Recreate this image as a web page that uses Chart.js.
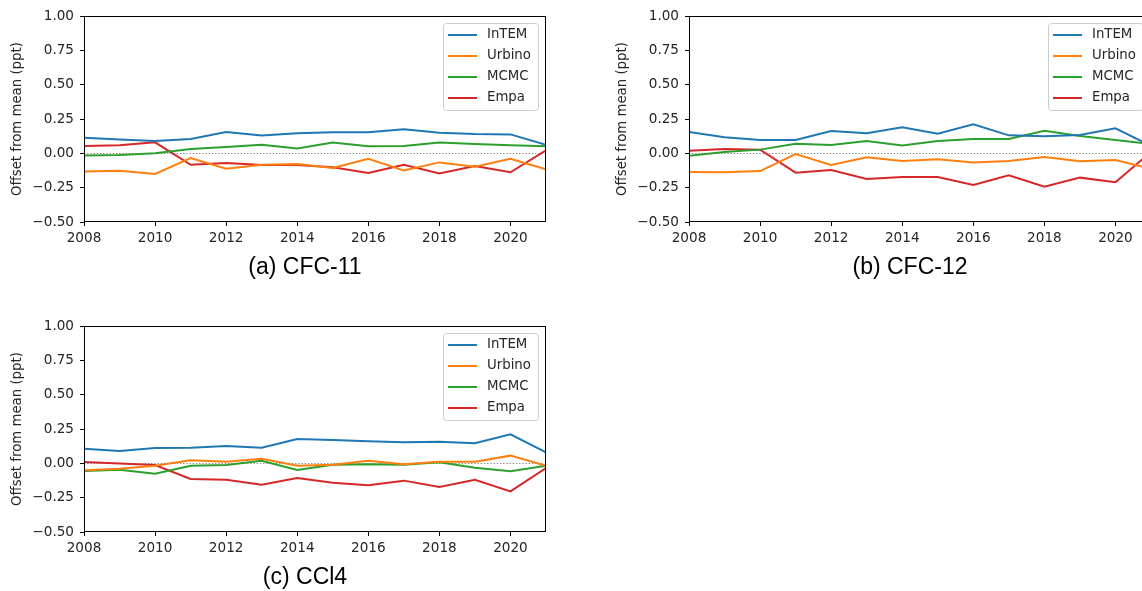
<!DOCTYPE html>
<html><head><meta charset="utf-8">
<script src="https://cdn.jsdelivr.net/npm/chart.js@4.4.1/dist/chart.umd.min.js"></script>
<style>
html,body{margin:0;padding:0;width:1142px;height:591px;overflow:hidden;background:#fff;}
canvas{position:absolute;}
</style></head><body>
<canvas id="ca" width="571" height="300" style="left:0px;top:0px;width:571px;height:300px"></canvas>
<canvas id="cb" width="571" height="300" style="left:605px;top:0px;width:571px;height:300px"></canvas>
<canvas id="cc" width="571" height="291" style="left:0px;top:310px;width:571px;height:291px"></canvas>
<script>
// ---- data ----
const years = [2008,2009,2010,2011,2012,2013,2014,2015,2016,2017,2018,2019,2020,2021];
const xTicks = [2008,2010,2012,2014,2016,2018,2020];
const yTicks = [-0.5,-0.25,0,0.25,0.5,0.75,1.0];
const seriesNames = ['InTEM','Urbino','MCMC','Empa'];
const panelTitles = ['(a) CFC-11','(b) CFC-12','(c) CCl4'];
const yAxisLabel = 'Offset from mean (ppt)';

const cfc11_InTEM  = [0.114,0.100,0.090,0.104,0.155,0.129,0.146,0.153,0.153,0.175,0.150,0.140,0.138,0.063];
const cfc11_Urbino = [-0.133,-0.126,-0.150,-0.034,-0.112,-0.083,-0.078,-0.107,-0.039,-0.124,-0.066,-0.097,-0.039,-0.117];
const cfc11_MCMC   = [-0.015,-0.012,0.000,0.032,0.046,0.063,0.036,0.078,0.051,0.053,0.078,0.068,0.058,0.051];
const cfc11_Empa   = [0.053,0.058,0.080,-0.083,-0.070,-0.085,-0.085,-0.102,-0.143,-0.083,-0.146,-0.092,-0.138,0.022];

const cfc12_InTEM  = [0.155,0.117,0.097,0.097,0.163,0.146,0.189,0.143,0.211,0.131,0.124,0.133,0.182,0.055];
const cfc12_Urbino = [-0.136,-0.138,-0.129,-0.005,-0.085,-0.029,-0.056,-0.044,-0.066,-0.056,-0.027,-0.058,-0.049,-0.112];
const cfc12_MCMC   = [-0.017,0.010,0.027,0.070,0.061,0.090,0.058,0.090,0.104,0.104,0.165,0.126,0.097,0.068];
const cfc12_Empa   = [0.019,0.032,0.027,-0.141,-0.121,-0.187,-0.172,-0.172,-0.231,-0.160,-0.243,-0.177,-0.211,0.010];

const ccl4_InTEM   = [0.107,0.090,0.112,0.114,0.126,0.114,0.177,0.170,0.160,0.153,0.158,0.146,0.211,0.080];
const ccl4_Urbino  = [-0.051,-0.039,-0.017,0.022,0.012,0.034,-0.017,-0.010,0.019,-0.007,0.012,0.012,0.056,-0.017];
const ccl4_MCMC    = [-0.056,-0.046,-0.075,-0.017,-0.012,0.019,-0.049,-0.010,-0.007,-0.010,0.007,-0.032,-0.058,-0.017];
const ccl4_Empa    = [0.010,-0.002,-0.012,-0.114,-0.119,-0.155,-0.107,-0.141,-0.160,-0.126,-0.172,-0.119,-0.204,-0.034];

// ---- styles ----
const seriesColors = ['#1f77b4','#ff7f0e','#2ca02c','#d62728'];
const TXT = '#262626';

const panelPlugin = {
  id: 'panelDeco',
  beforeDatasetsDraw(chart) {
    const {ctx, chartArea, scales} = chart;
    const py = Math.round(scales.y.getPixelForValue(0)) + 0.5;
    ctx.save();
    ctx.strokeStyle = '#555';
    ctx.lineWidth = 0.8;
    ctx.setLineDash([1.2, 2]);
    ctx.beginPath();
    ctx.moveTo(chartArea.left, py);
    ctx.lineTo(chartArea.right, py);
    ctx.stroke();
    ctx.restore();
  },
  afterDraw(chart, args, opts) {
    const {ctx, chartArea} = chart;
    const {left, right, top, bottom} = chartArea;
    ctx.save();
    // frame
    ctx.strokeStyle = '#000';
    ctx.lineWidth = 1;
    ctx.strokeRect(left + 0.5, top + 0.5, right - left - 1, bottom - top - 1);
    // legend
    const bw = 95, bh = 87;
    const bx = right - 8 - bw, by = top + 7;
    ctx.fillStyle = 'rgba(255,255,255,0.8)';
    ctx.strokeStyle = '#cccccc';
    ctx.lineWidth = 1;
    ctx.beginPath();
    if (ctx.roundRect) ctx.roundRect(bx + 0.5, by + 0.5, bw, bh, 3); else ctx.rect(bx + 0.5, by + 0.5, bw, bh);
    ctx.fill();
    ctx.stroke();
    ctx.font = '13.3px "DejaVu Sans"';
    ctx.textBaseline = 'middle';
    ctx.textAlign = 'left';
    chart.data.datasets.forEach((ds, i) => {
      const yy = by + 12 + 21 * i;
      ctx.strokeStyle = ds.borderColor;
      ctx.lineWidth = 2;
      ctx.beginPath();
      ctx.moveTo(bx + 5, yy);
      ctx.lineTo(bx + 34, yy);
      ctx.stroke();
      ctx.fillStyle = TXT;
      ctx.fillText(ds.label, bx + 44, yy);
    });
    // panel title
    ctx.font = '23px "Liberation Sans"';
    ctx.fillStyle = '#000';
    ctx.textAlign = 'center';
    ctx.fillText(opts.title, left + 221, bottom + 46);
    ctx.restore();
  }
};

function makeChart(id, title, seriesList, topPad, canvasH) {
  const datasets = seriesList.map((vals, i) => ({
    label: seriesNames[i],
    data: years.map((yr, j) => ({x: yr, y: vals[j]})),
    borderColor: seriesColors[i],
    backgroundColor: seriesColors[i],
    borderWidth: 2,
    pointRadius: 0,
    tension: 0,
    fill: false
  }));
  return new Chart(document.getElementById(id), {
    type: 'line',
    data: {datasets},
    plugins: [panelPlugin],
    options: {
      responsive: false,
      animation: false,
      events: [],
      layout: {padding: {top: topPad, right: 25, left: 0, bottom: 0}},
      plugins: {
        legend: {display: false},
        tooltip: {enabled: false},
        panelDeco: {title}
      },
      scales: {
        x: {
          type: 'linear',
          min: 2008, max: 2021,
          afterBuildTicks: s => { s.ticks = xTicks.map(v => ({value: v})); },
          afterFit: s => { s.height = canvasH - topPad - 206; s.paddingLeft = 0; s.paddingRight = 0; },
          border: {display: false},
          grid: {drawOnChartArea: false, drawTicks: true, tickLength: 4, color: '#000', lineWidth: 1},
          ticks: {
            font: {family: 'DejaVu Sans', size: 13.6},
            color: TXT,
            padding: 4,
            maxRotation: 0,
            autoSkip: false,
            callback: v => String(v)
          }
        },
        y: {
          min: -0.5, max: 1.0,
          afterBuildTicks: s => { s.ticks = yTicks.map(v => ({value: v})); },
          afterFit: s => { s.width = 84; s.paddingTop = 0; s.paddingBottom = 0; },
          border: {display: false},
          grid: {drawOnChartArea: false, drawTicks: true, tickLength: 4, color: '#000', lineWidth: 1},
          title: {
            display: true,
            text: yAxisLabel,
            font: {family: 'DejaVu Sans', size: 13.3},
            color: TXT,
            padding: {top: 10, bottom: 0}
          },
          ticks: {
            font: {family: 'DejaVu Sans', size: 13.6},
            color: TXT,
            padding: 6,
            autoSkip: false,
            callback: v => (v < 0 ? '\u2212' : '') + Math.abs(v).toFixed(2)
          }
        }
      }
    }
  });
}

makeChart('ca', panelTitles[0], [cfc11_InTEM, cfc11_Urbino, cfc11_MCMC, cfc11_Empa], 16, 300);
makeChart('cb', panelTitles[1], [cfc12_InTEM, cfc12_Urbino, cfc12_MCMC, cfc12_Empa], 16, 300);
makeChart('cc', panelTitles[2], [ccl4_InTEM, ccl4_Urbino, ccl4_MCMC, ccl4_Empa], 16, 291);
</script>
</body></html>
